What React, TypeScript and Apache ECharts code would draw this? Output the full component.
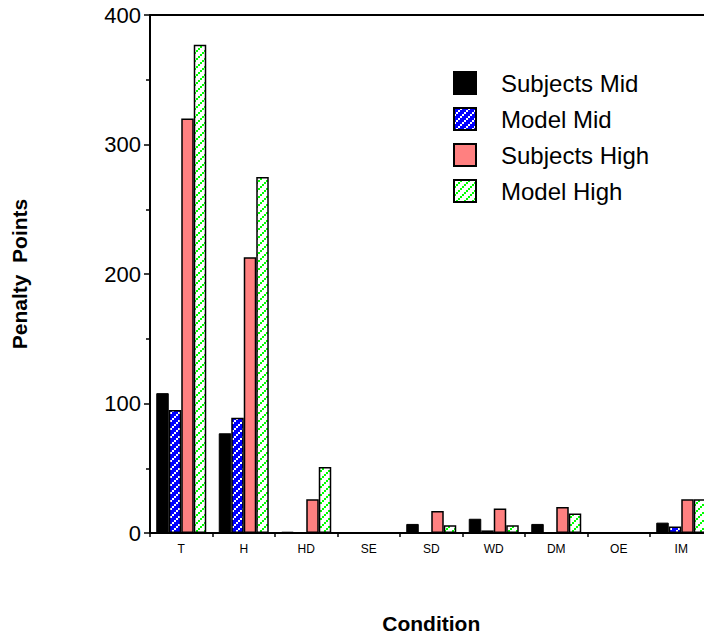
import React, { useEffect, useRef } from "react";
import * as echarts from "echarts";

const categories = ["T", "H", "HD", "SE", "SD", "WD", "DM", "OE", "IM"];
const subjectsMid = [108, 77, 1, 0, 7, 11, 7, 0, 8];
const modelMid = [95, 89, 0, 0, 0, 2, 0, 0, 5];
const subjectsHigh = [320, 213, 26, 0, 17, 19, 20, 0, 26];
const modelHigh = [377, 275, 51, 0, 6, 6, 15, 0, 26];
const yTicks = [0, 100, 200, 300, 400];

function makePattern(bg: string, dot: string): string {
  const c = document.createElement("canvas");
  c.width = 8;
  c.height = 8;
  const ctx = c.getContext("2d")!;
  ctx.fillStyle = bg;
  ctx.fillRect(0, 0, 8, 8);
  ctx.fillStyle = dot;
  const pts = [
    [0, 6],
    [2, 4],
    [4, 2],
    [6, 0],
  ];
  for (const [x, y] of pts) ctx.fillRect(x, y, 2, 2);
  return c.toDataURL();
}

export default function App() {
  const ref = useRef<HTMLDivElement>(null);
  useEffect(() => {
    if (!ref.current) return;
    const chart = echarts.init(ref.current, undefined, { renderer: "svg" });
    const bluePat = makePattern("#0000ff", "#ffffff");
    const greenPat = makePattern("#ffffff", "#00ff00");
    const font = "Liberation Sans, Arial, sans-serif";
    const border = { borderColor: "#000", borderWidth: 1.5 };
    chart.setOption({
      animation: false,
      backgroundColor: "#fff",
      grid: { left: 150, top: 15, bottom: 106, right: -8.5, outerBoundsMode: "none", containLabel: false },
      legend: {
        orient: "vertical",
        left: 453,
        top: 71,
        padding: 0,
        itemWidth: 22,
        itemHeight: 22,
        itemGap: 12,
        icon: "rect",
        textStyle: { fontFamily: font, fontSize: 24, lineHeight: 22, color: "#000", padding: [0, 0, 0, 20] },
        data: ["Subjects Mid", "Model Mid", "Subjects High", "Model High"],
      },
      xAxis: [
        {
          type: "category",
          data: categories,
          axisLine: { lineStyle: { color: "#000", width: 2 } },
          axisTick: { show: true, length: 4, lineStyle: { color: "#000", width: 1.5 } },
          axisLabel: { fontFamily: font, fontSize: 12, color: "#000", margin: 10 },
          name: "Condition",
          nameLocation: "middle",
          nameGap: 80,
          nameTextStyle: { fontFamily: font, fontSize: 21, fontWeight: "bold", color: "#000" },
        },
        {
          type: "category",
          data: categories,
          position: "top",
          axisLine: { lineStyle: { color: "#000", width: 2 } },
          axisTick: { show: false },
          axisLabel: { show: false },
        },
      ],
      yAxis: {
        type: "value",
        min: yTicks[0],
        max: yTicks[yTicks.length - 1],
        interval: 100,
        splitLine: { show: false },
        axisLine: { show: true, lineStyle: { color: "#000", width: 2 } },
        axisTick: { show: true, length: 6, lineStyle: { color: "#000", width: 1.5 } },
        minorTick: { show: true, splitNumber: 2, length: 4, lineStyle: { color: "#000", width: 1.5 } },
        axisLabel: { fontFamily: font, fontSize: 22, color: "#000", margin: 9 },
        name: "Penalty  Points",
        nameLocation: "middle",
        nameGap: 120,
        nameRotate: 90,
        nameTextStyle: { fontFamily: font, fontSize: 21, fontWeight: "bold", color: "#000" },
      },
      series: [
        {
          name: "Subjects Mid",
          type: "bar",
          data: subjectsMid,
          barGap: "0%",
          barCategoryGap: "20%",
          itemStyle: { color: "#000", borderColor: "#000", borderWidth: 1 },
        },
        {
          name: "Model Mid",
          type: "bar",
          data: modelMid,
          barGap: "0%",
          barCategoryGap: "20%",
          itemStyle: { color: { image: bluePat, repeat: "repeat" }, ...border },
        },
        {
          name: "Subjects High",
          type: "bar",
          data: subjectsHigh,
          barGap: "0%",
          barCategoryGap: "20%",
          itemStyle: { color: "#ff8080", ...border },
        },
        {
          name: "Model High",
          type: "bar",
          data: modelHigh,
          barGap: "0%",
          barCategoryGap: "20%",
          itemStyle: { color: { image: greenPat, repeat: "repeat" }, ...border },
        },
      ],
    });
    return () => chart.dispose();
  }, []);
  return <div ref={ref} style={{ width: 704, height: 639, position: "absolute", left: 0, top: 0 }} />;
}
